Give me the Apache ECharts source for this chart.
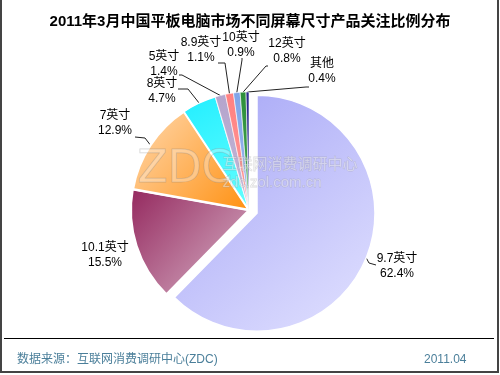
<!DOCTYPE html>
<html><head><meta charset="utf-8">
<script src="https://cdn.jsdelivr.net/npm/echarts@6/dist/echarts.min.js"></script>
<style>html,body{margin:0;padding:0;background:#fff}#c{width:500px;height:375px}</style>
</head><body><div id="c"></div>
<script>
const categories = ['9.7英寸','10.1英寸','7英寸','8英寸','5英寸','8.9英寸','10英寸','12英寸','其他'];
const values = [62.4, 15.5, 12.9, 4.7, 1.4, 1.1, 0.9, 0.8, 0.4];
const labelText = ['62.4%','15.5%','12.9%','4.7%','1.4%','1.1%','0.9%','0.8%','0.4%'];

const colorPairs = [
  ['#a4a4f6','#e2e2ff'],
  ['#94285e','#d8b4c8'],
  ['#ffd9b0','#ff9010'],
  ['#22eeff','#66ffff'],
  ['#b4a4cc','#c4b8d8'],
  ['#ff8080','#ff9c9c'],
  ['#80a4e8','#9cb8ee'],
  ['#2e8f3c','#44a650'],
  ['#2a2a8c','#3a3aa0']
];
const borderW = [1.5, 2, 2.5, 1.5, 0.6, 0.6, 0.6, 0.6, 0.6];
const labelPos = [[397,266],[105,255],[115,123],[162,91],[164,64],[201,50],[241,45],[287,51],[322,71]];
// leader-line bend and end points (style)
const guide = [
  [[369,263],[376,265]],
  null,
  [[145,138],[135,137]],
  [[188,89],[178,89]],
  [[182,75],[179,75]],
  [[225,63],[218,63]],
  [[242,60],[242,58]],
  [[266,66],[268,66]],
  [[306,87],[309,87]]
];
const pieCenter = [249,210];
const explode = [8,3.3];   // offset of the pulled-out 9.7英寸 slice
const exploded = 0;

const chart = echarts.init(document.getElementById('c'), null, {renderer:'canvas'});
const font = '"Liberation Sans","Noto Sans CJK SC",sans-serif';

function makeSeries(showExploded){
  return {
    type:'pie',
    center: showExploded ? [pieCenter[0]+explode[0], pieCenter[1]+explode[1]] : pieCenter,
    radius:118,
    startAngle:90,
    clockwise:true,
    avoidLabelOverlap:false,
    silent:true,
    label:{show:true, position:'outside', color:'#000', fontSize:12, fontFamily:font, lineHeight:15,
      formatter:function(p){return p.name+'\n'+labelText[p.dataIndex];}},
    labelLine:{show:true, length:8, length2:6, lineStyle:{color:'#222', width:1}},
    labelLayout:function(p){
      const q=labelPos[p.dataIndex];
      const r={x:q[0],y:q[1],align:'center',verticalAlign:'middle'};
      const g=guide[p.dataIndex];
      if(p.labelLinePoints){
        const s=p.labelLinePoints[0];
        r.labelLinePoints = g ? [s,g[0],g[1]] : [s,s,s];
      }
      return r;
    },
    emphasis:{disabled:true},
    data:categories.map(function(n,i){
      const vis = (i===exploded) === showExploded;
      return {
        name:n, value:values[i],
        label:{show:vis}, labelLine:{show:vis && guide[i]!==null},
        itemStyle: vis ? {borderColor:'#fff', borderWidth:borderW[i],
          color:{type:'linear',x:0,y:0,x2:1,y2:1,colorStops:[{offset:0,color:colorPairs[i][0]},{offset:1,color:colorPairs[i][1]}]}}
          : {color:'rgba(0,0,0,0)', borderWidth:0}
      };
    })
  };
}

chart.setOption({
  animation:false,
  title:{text:'2011年3月中国平板电脑市场不同屏幕尺寸产品关注比例分布', left:'center', top:9,
    textStyle:{fontSize:15, fontWeight:'bold', color:'#000', fontFamily:font}},
  graphic:[
    {type:'rect', shape:{x:1,y:-3,width:497,height:375}, style:{fill:null, stroke:'#444', lineWidth:2}, z:10},
    {type:'line', shape:{x1:4,y1:338.5,x2:494,y2:338.5}, style:{stroke:'#000', lineWidth:1}},
    {type:'text', left:17, top:354, style:{text:'数据来源：互联网消费调研中心(ZDC)', fill:'#4b7f9a', font:'12px '+font}},
    {type:'text', left:424, top:354, style:{text:'2011.04', fill:'#4b7f9a', font:'12px '+font}},
    {type:'text', left:137, top:148, z:100, style:{text:'ZDC', fill:'rgba(255,255,255,0.3)', stroke:'rgba(120,120,120,0.3)', lineWidth:1, font:'44px "DejaVu Sans",sans-serif'}},
    {type:'text', left:222, top:155, z:100, style:{text:'互联网消费调研中心', fill:'rgba(255,255,255,0.4)', stroke:'rgba(150,150,150,0.35)', lineWidth:0.8, font:'15px "Noto Sans CJK SC",sans-serif'}},
    {type:'text', left:222, top:175, z:100, style:{text:'zdc.zol.com.cn', fill:'rgba(255,255,255,0.4)', stroke:'rgba(150,150,150,0.35)', lineWidth:0.8, font:'15px "Liberation Sans",sans-serif'}}
  ],
  series:[makeSeries(false), makeSeries(true)]
});
</script></body></html>
